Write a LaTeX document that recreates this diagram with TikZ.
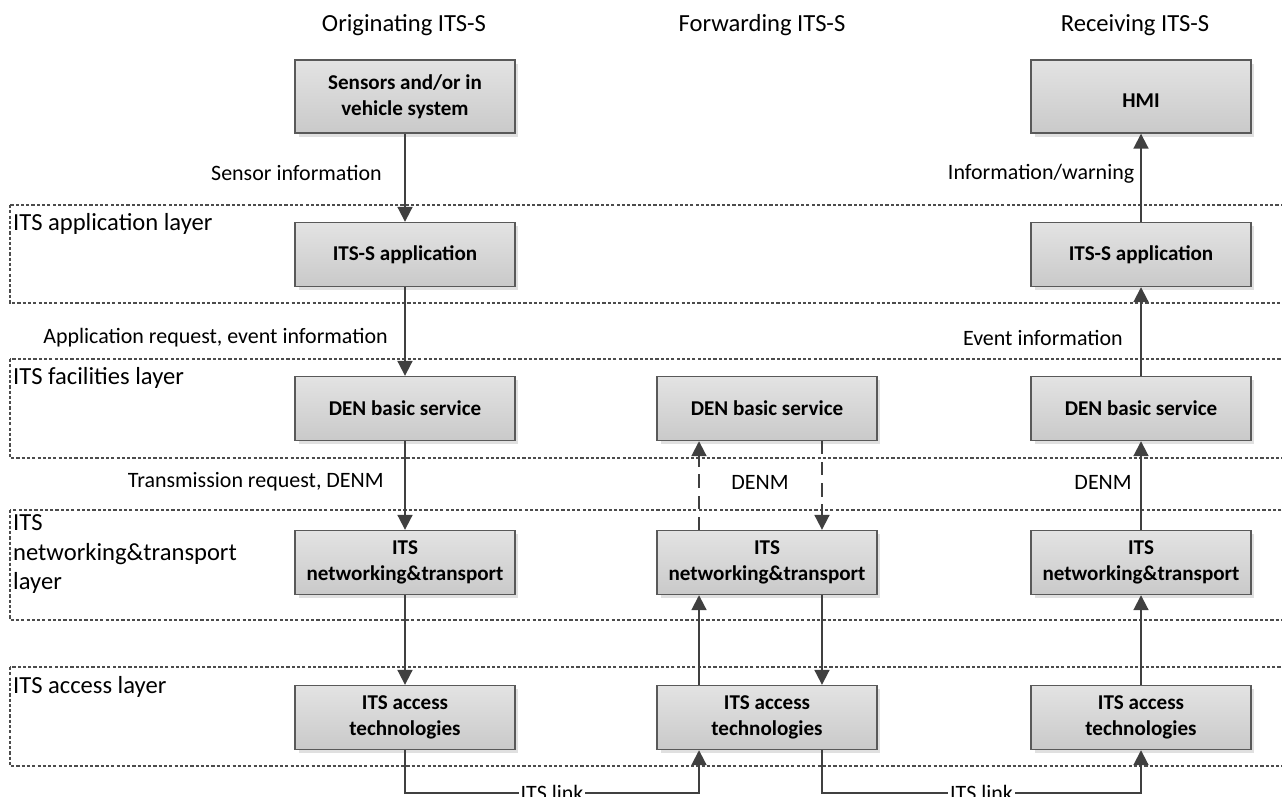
\documentclass[tikz,border=0pt]{standalone}
\usepackage{fontspec}
\setmainfont{Carlito}
\usetikzlibrary{arrows.meta,shadows}

\tikzset{
  blk/.style={draw=black!65, line width=0.8pt, top color=gray!22, bottom color=gray!42,
    minimum width=4.4cm, minimum height=1.28cm, align=center,
    font=\fontsize{12}{14.7}\selectfont\bfseries,
    drop shadow={shadow xshift=0.07cm, shadow yshift=-0.07cm, fill=black!12, opacity=1}},
  arr/.style={draw=black!75, line width=1.1pt, -{Triangle[length=8.5pt,width=8.5pt]}},
  dasharr/.style={arr, dash pattern=on 7.5pt off 4.5pt},
  layer/.style={draw=black!70, line width=0.6pt, dash pattern=on 1.8pt off 1.2pt},
  lbl/.style={font=\fontsize{12.5}{15}\selectfont},
  big/.style={font=\fontsize{14}{17}\selectfont},
}

\begin{document}
\begin{tikzpicture}[x=0.02cm, y=-0.02cm]
  \useasboundingbox (0,0) rectangle (1282,796);

  % layers
  \draw[layer] (10,205) rectangle (1300,303);
  \draw[layer] (10,359) rectangle (1300,458);
  \draw[layer] (10,510) rectangle (1300,620);
  \draw[layer] (10,667) rectangle (1300,766);
  \node[big, anchor=west] at (7,224) {ITS application layer};
  \node[big, anchor=west] at (7,378) {ITS facilities layer};
  \node[big, anchor=north west, align=left] at (7,508) {ITS\\networking\&transport\\layer};
  \node[big, anchor=west] at (7,687) {ITS access layer};

  % headers
  \node[big] at (404,25) {Originating ITS-S};
  \node[big] at (762,25) {Forwarding ITS-S};
  \node[big] at (1135,25) {Receiving ITS-S};

  % originating
  \node[blk, minimum height=1.46cm] (s1) at (405,96.5) {Sensors and/or in\\vehicle system};
  \node[blk] (a1) at (405,254.5) {ITS-S application};
  \node[blk] (d1) at (405,408.5) {DEN basic service};
  \node[blk] (n1) at (405,562.5) {ITS\\networking\&transport};
  \node[blk] (x1) at (405,717.5) {ITS access\\technologies};

  % forwarding
  \node[blk] (d2) at (767,408.5) {DEN basic service};
  \node[blk] (n2) at (767,562.5) {ITS\\networking\&transport};
  \node[blk] (x2) at (767,717.5) {ITS access\\technologies};

  % receiving
  \node[blk, minimum height=1.46cm, text height=13pt, text depth=0pt] (h3) at (1141,96.5) {HMI};
  \node[blk] (a3) at (1141,254.5) {ITS-S application};
  \node[blk] (d3) at (1141,408.5) {DEN basic service};
  \node[blk] (n3) at (1141,562.5) {ITS\\networking\&transport};
  \node[blk] (x3) at (1141,717.5) {ITS access\\technologies};

  % originating arrows
  \draw[arr] (s1) -- (a1) node[pos=0.45, lbl, left=0.33cm] {Sensor information};
  \draw[arr] (a1) -- (d1) node[pos=0.57, lbl, left=0.21cm] {Application request, event information};
  \draw[arr] (d1) -- (n1) node[pos=0.46, lbl, left=0.29cm] {Transmission request, DENM};
  \draw[arr] (n1) -- (x1);

  % forwarding arrows
  \draw[dasharr] ([xshift=-1.36cm]n2.north) -- ([xshift=-1.36cm]d2.south);
  \draw[dasharr] ([xshift=1.1cm]d2.south) -- ([xshift=1.1cm]n2.north);
  \node[lbl] (dm2) at (760,482) {DENM};
  \draw[arr] ([xshift=-1.36cm]x2.north) -- ([xshift=-1.36cm]n2.south);
  \draw[arr] ([xshift=1.1cm]n2.south) -- ([xshift=1.1cm]x2.north);

  % receiving arrows
  \draw[arr] (x3) -- (n3);
  \draw[arr] (n3) -- (d3) node[pos=0.54, lbl, left=0.05cm] {DENM};
  \draw[arr] (d3) -- (a3) node[pos=0.43, lbl, left=0.23cm] {Event information};
  \draw[arr] (a3) -- (h3) node[pos=0.55, lbl, left=0cm] {Information/warning};

  % ITS links
  \draw[arr] (x1.south) -- ++(0,43) -| ([xshift=-1.36cm]x2.south)
    node[pos=0.25, lbl, fill=white, inner sep=1pt] {ITS link};
  \draw[arr] ([xshift=1.1cm]x2.south) -- ++(0,43) -| (x3.south)
    node[pos=0.25, lbl, fill=white, inner sep=1pt] {ITS link};
\end{tikzpicture}
\end{document}
